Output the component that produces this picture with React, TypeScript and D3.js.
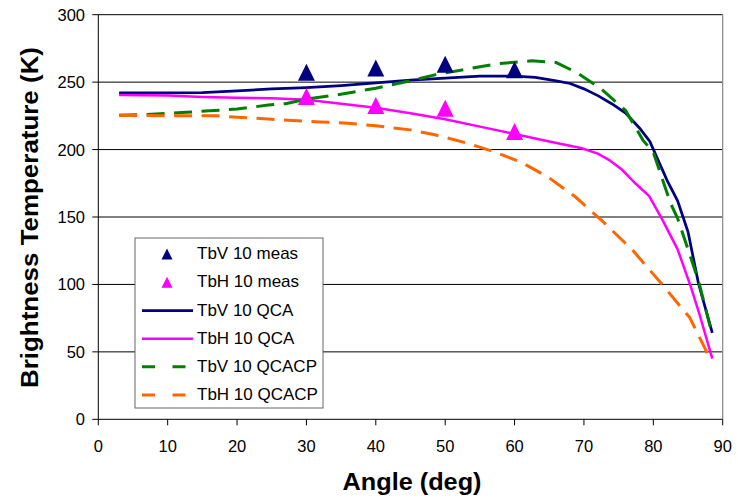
import React from "react";
import * as d3 from "d3";

const xTicks = [0, 10, 20, 30, 40, 50, 60, 70, 80, 90];
const yTicks = [0, 50, 100, 150, 200, 250, 300];

const measAngles = [30, 40, 50, 60];
const tbvMeas = [257.4, 260.4, 263.3, 259.1];
const tbhMeas = [239.3, 232.6, 230.7, 213.4];

const tbvQcaAngles = [3, 10, 15, 20, 25, 30, 35, 40, 45, 50, 55, 60, 63, 66, 68, 70, 72, 74, 76, 78, 79.5, 82, 83.5, 85, 86.5, 88.5];
const tbvQca = [242, 242, 242.3, 243.5, 245, 246, 247.5, 249.5, 251.5, 253, 254.5, 254.5, 253.5, 251, 249, 245, 240, 234, 227, 216, 206, 177, 162, 139, 101, 64];

const tbhQcaAngles = [3, 10, 15, 20, 25, 30, 35, 40, 45, 50, 55, 60, 65, 69.7, 72, 73.6, 75.5, 77.4, 79.4, 81.3, 83.5, 85.4, 86.6, 88.5];
const tbhQca = [240.5, 240, 239, 238.5, 238, 237, 234, 231, 227, 222.5, 217, 211.5, 206, 201, 197, 192.4, 185, 175, 165.5, 148, 126, 98.4, 78.8, 45];

const tbvQcacpAngles = [3, 7, 12, 16, 20, 24.5, 27, 30, 34.5, 40, 45, 48.5, 53, 57.5, 62.5, 66, 69, 72.5, 76, 78.5, 80, 81.5, 82.5, 83.5, 85.2, 86.6, 88.5];
const tbvQcacp = [225.5, 226, 227.4, 228.7, 230, 233, 234, 237.4, 240.6, 245.5, 251, 255.4, 259.6, 263.6, 265.8, 264.5, 257, 245, 229, 207, 198, 175, 160, 149, 123, 101, 62.5];

const tbhQcacpAngles = [3, 10, 17, 20, 24, 28, 32, 36, 40, 45, 48.5, 53, 57, 61, 65, 68.75, 72.75, 77, 81.1, 85.25, 87.5, 88];
const tbhQcacp = [225.5, 225, 225, 224, 222.8, 221.5, 220.5, 219.5, 217.6, 214.6, 211, 205, 198.5, 190.5, 179, 165, 146.5, 125.5, 101, 75.4, 52, 46];

const legendLabels = ["TbV 10 meas", "TbH 10 meas", "TbV 10 QCA", "TbH 10 QCA", "TbV 10 QCACP", "TbH 10 QCACP"];

const NAVY = "#000080";
const MAGENTA = "#FF00FF";
const GREEN = "#008000";
const ORANGE = "#FF6600";

export default function App() {
  const W = 738, H = 499;
  const x = d3.scaleLinear().domain([0, 90]).range([98.3, 722.7]);
  const y = d3.scaleLinear().domain([0, 300]).range([419.3, 14.7]);

  const line = d3.line<[number, number]>().x(d => x(d[0])).y(d => y(d[1])).curve(d3.curveLinear);
  const zip = (a: number[], b: number[]) => a.map((v, i) => [v, b[i]] as [number, number]);

  const tri = (cx: number, cy: number, s: number) =>
    `M${cx},${cy - s / 2}L${cx + s / 2},${cy + s / 2}L${cx - s / 2},${cy + s / 2}Z`;

  const font = "Arial, 'Liberation Sans', sans-serif";

  const series = [
    { d: zip(tbvQcaAngles, tbvQca), c: NAVY, w: 2.75, dash: undefined as string | undefined },
    { d: zip(tbhQcaAngles, tbhQca), c: MAGENTA, w: 2.5, dash: undefined },
    { d: zip(tbvQcacpAngles, tbvQcacp), c: GREEN, w: 3, dash: "18 9.5" },
    { d: zip(tbhQcacpAngles, tbhQcacp), c: ORANGE, w: 3, dash: "18 9.5" },
  ];

  const legX = 135, legY = 238, legW = 188, legH = 170;
  const rowY = [254, 282.3, 310.5, 338.7, 366.8, 395];

  return (
    <svg width={W} height={H} style={{ position: "absolute", left: 0, top: 0, background: "#fff" }} fontFamily={font}>
      <rect x={0} y={0} width={W} height={H} fill="#fff" />
      {yTicks.filter(t => t > 0).map(t => (
        <line key={t} x1={x(0)} x2={x(90)} y1={y(t)} y2={y(t)} stroke="#000" strokeWidth={1} />
      ))}
      <line x1={x(90)} x2={x(90)} y1={y(300)} y2={y(0)} stroke="#888" strokeWidth={1.2} />
      <line x1={x(0)} x2={x(0)} y1={y(300)} y2={y(0)} stroke="#000" strokeWidth={1} />
      <line x1={x(0)} x2={x(90)} y1={y(0)} y2={y(0)} stroke="#000" strokeWidth={1} />
      {yTicks.map(t => (
        <g key={"y" + t}>
          <line x1={x(0) - 6} x2={x(0)} y1={y(t)} y2={y(t)} stroke="#000" />
          <text x={85} y={y(t) + 6} textAnchor="end" fontSize={16.5} fill="#000">{t}</text>
        </g>
      ))}
      {xTicks.map(t => (
        <g key={"x" + t}>
          <line x1={x(t)} x2={x(t)} y1={y(0)} y2={y(0) + 6} stroke="#000" />
          <text x={x(t)} y={451.5} textAnchor="middle" fontSize={16.5} fill="#000">{t}</text>
        </g>
      ))}
      <rect x={legX} y={legY} width={legW} height={legH} fill="#fff" stroke="#666" strokeWidth={1} />
      {series.map((s, i) => (
        <path key={i} d={line(s.d) || ""} fill="none" stroke={s.c} strokeWidth={s.w} strokeDasharray={s.dash} />
      ))}
      {measAngles.map((a, i) => (
        <path key={"v" + i} d={tri(x(a), y(tbvMeas[i]), 17)} fill={NAVY} />
      ))}
      {measAngles.map((a, i) => (
        <path key={"h" + i} d={tri(x(a), y(tbhMeas[i]), 17)} fill={MAGENTA} />
      ))}
      <path d={tri(167, rowY[0], 11)} fill={NAVY} />
      <path d={tri(167, rowY[1], 11)} fill={MAGENTA} />
      <line x1={142} x2={193} y1={rowY[2]} y2={rowY[2]} stroke={NAVY} strokeWidth={2.75} />
      <line x1={142} x2={193} y1={rowY[3]} y2={rowY[3]} stroke={MAGENTA} strokeWidth={2.5} />
      <line x1={142} x2={193} y1={rowY[4]} y2={rowY[4]} stroke={GREEN} strokeWidth={3} strokeDasharray="13 17.5" />
      <line x1={142} x2={193} y1={rowY[5]} y2={rowY[5]} stroke={ORANGE} strokeWidth={3} strokeDasharray="13 17.5" />
      {legendLabels.map((l, i) => (
        <text key={l} x={197} y={rowY[i] + 5} fontSize={17} fill="#000">{l}</text>
      ))}
      <text x={412} y={490} textAnchor="middle" fontSize={23.5} fontWeight="bold" fill="#000"
        textLength={139} lengthAdjust="spacingAndGlyphs">Angle (deg)</text>
      <text transform={`translate(38,217.5) rotate(-90)`} textAnchor="middle" fontSize={23.5} fontWeight="bold" fill="#000"
        textLength={341} lengthAdjust="spacingAndGlyphs">Brightness Temperature (K)</text>
    </svg>
  );
}
